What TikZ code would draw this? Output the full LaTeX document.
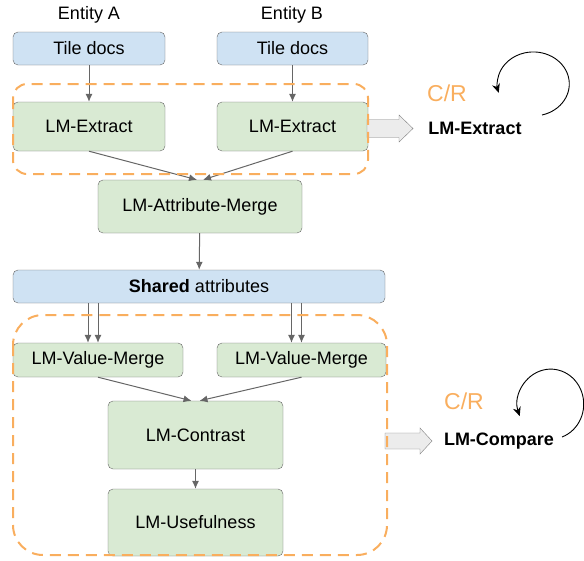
\documentclass[tikz,border=0pt]{standalone}
\usepackage{fontspec}
\setmainfont{Liberation Sans}
\usepackage{xcolor}
\usetikzlibrary{arrows.meta,positioning,calc}

\definecolor{tileblue}{HTML}{CFE2F3}
\definecolor{lmgreen}{HTML}{D9EAD3}
\definecolor{boxgray}{HTML}{666666}
\definecolor{crorange}{HTML}{F9AE5E}

\begin{document}
\begin{tikzpicture}[x=1pt, y=1pt,
    every node/.style={font=\fontsize{18}{21}\selectfont},
    tilebox/.style={draw=boxgray, fill=tileblue, rounded corners=5pt, inner sep=0pt},
    lmbox/.style={draw=boxgray, fill=lmgreen, rounded corners=5pt, inner sep=0pt},
    flow/.style={draw=boxgray, line width=1pt, -{Latex[length=8pt,width=7pt]}},
    group/.style={draw=crorange, dash pattern=on 11pt off 7pt, line width=2pt},
    bigarrow/.style={draw=gray, fill=gray!15},
    loop/.style={draw=black, line width=0.9pt, -{Stealth[length=9pt,width=8pt]}},
    crlabel/.style={text=crorange, font=\fontsize{23}{26}\selectfont}]
    \useasboundingbox (0,0) rectangle (584,-560);

    % Entities and their tile docs
    \node (entA) at (89,-15) {Entity A};
    \node (entB) at (292,-15) {Entity B};
    \node[tilebox, minimum width=152pt, minimum height=33pt] (tileA) at (89,-48.5) {Tile docs};
    \node[tilebox, minimum width=151pt, minimum height=33pt] (tileB) at (292.5,-48.5) {Tile docs};

    % Extraction step
    \node[lmbox, minimum width=152pt, minimum height=49pt] (extA) at (89,-126.5) {LM-Extract};
    \node[lmbox, minimum width=151pt, minimum height=49pt] (extB) at (292.5,-126.5) {LM-Extract};
    \node[lmbox, minimum width=204pt, minimum height=53pt] (merge) at (200,-206.5) {LM-Attribute-Merge};

    \draw[flow] (tileA) -- (extA);
    \draw[flow] (tileB) -- (extB);
    \draw[flow] (extA.south) -- ([xshift=-3pt]merge.north);
    \draw[flow] (extB.south) -- ([xshift=3pt]merge.north);

    % Shared attributes
    \node[tilebox, minimum width=372pt, minimum height=33pt] (shared) at (199,-286.5) {\textbf{Shared} attributes};
    \draw[flow] (merge) -- (shared);

    % Comparison step
    \node[lmbox, minimum width=170pt, minimum height=34pt] (vmA) at (98,-360) {LM-Value-Merge};
    \node[lmbox, minimum width=169pt, minimum height=34pt] (vmB) at (301.5,-360) {LM-Value-Merge};
    \node[lmbox, minimum width=175pt, minimum height=68pt] (contrast) at (195.5,-435) {LM-Contrast};
    \node[lmbox, minimum width=175pt, minimum height=67pt] (useful) at (195.5,-522.5) {LM-Usefulness};

    \draw[flow] ([xshift=-10pt]vmA.north |- shared.south) -- ([xshift=-10pt]vmA.north);
    \draw[flow] (vmA.north |- shared.south) -- (vmA.north);
    \draw[flow] ([xshift=-10pt]vmB.north |- shared.south) -- ([xshift=-10pt]vmB.north);
    \draw[flow] (vmB.north |- shared.south) -- (vmB.north);
    \draw[flow] (vmA.south) -- ([xshift=-4pt]contrast.north);
    \draw[flow] (vmB.south) -- ([xshift=4pt]contrast.north);
    \draw[flow] (contrast) -- (useful);

    % Block arrows
    \draw[bigarrow] (367,-119.5) -- (399,-119.5) -- (399,-115) -- (413,-128.5)
        -- (399,-142) -- (399,-137.5) -- (367,-137.5) -- cycle;
    \draw[bigarrow] (385,-433) -- (420,-433) -- (420,-428) -- (432,-441)
        -- (420,-454) -- (420,-449) -- (385,-449) -- cycle;

    % Dashed groups
    \draw[group, rounded corners=14pt] (13,-84) rectangle (368,-174);
    \draw[group, rounded corners=30pt] (13,-315) rectangle (387,-555);

    % C/R loops
    \node[crlabel] (cr1) at (447,-93) {C/R};
    \node[font=\fontsize{18}{21}\selectfont\bfseries] (lmext) at (475,-128) {LM-Extract};
    \draw[loop] (542,-115) arc[start angle=-76, end angle=196, x radius=36, y radius=32];

    \node[crlabel] (cr2) at (464,-401) {C/R};
    \node[font=\fontsize{18}{21}\selectfont\bfseries] (lmcmp) at (499,-441) {LM-Compare};
    \draw[loop] (562,-437) arc[start angle=-70, end angle=200, x radius=33, y radius=35];
\end{tikzpicture}
\end{document}
